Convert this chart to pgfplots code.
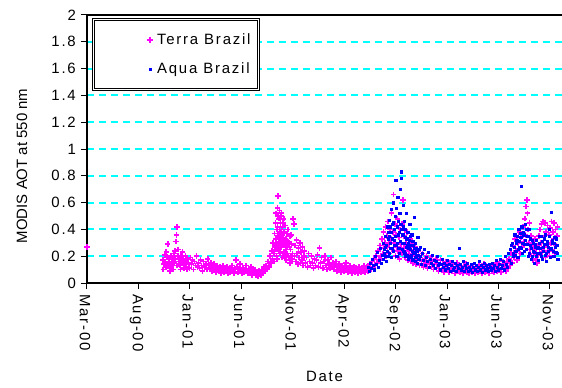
\documentclass[border=0pt]{standalone}
\usepackage{fontspec}
\setmainfont{Liberation Sans}
\newfontfamily\spaced{Liberation Sans}[LetterSpace=12]
\usepackage{pgfplots}
\pgfplotsset{compat=1.18}
\definecolor{terra}{RGB}{255,0,255}
\definecolor{aquablue}{RGB}{0,0,255}
\definecolor{gridcyan}{RGB}{0,255,255}
% legend image: a single mark with empty room to its left
\pgfplotsset{wide legend mark/.style={legend image code/.code={\path (-50bp,0) (4bp,0); \draw[##1] plot coordinates {(0bp,0bp)};}}}

\begin{document}
\fontsize{15}{17}\selectfont
\begin{tikzpicture}
\useasboundingbox (-87bp,-105bp) rectangle (475bp,283bp);
\begin{axis}[
  at={(0,0)}, anchor=south west,
  width=475bp, height=268bp, scale only axis,
  xmin=0, xmax=1413, ymin=0, ymax=2,
  axis x line*=bottom, axis y line*=left,
  axis line style={-, line width=1.2bp, black},
  tick align=outside, major tick length=6bp,
  tick style={line width=1bp, black},
  xtick={0,153,306,459,612,765,918,1071,1224,1377},
  xticklabels={Mar-00,Aug-00,Jan-01,Jun-01,Nov-01,Apr-02,Sep-02,Jan-03,Jun-03,Nov-03},
  ytick={0,0.2,0.4,0.6,0.8,1,1.2,1.4,1.6,1.8,2},
  yticklabels={0,0.2,0.4,0.6,0.8,1,1.2,1.4,1.6,1.8,2},
  minor ytick={0.2,0.4,0.6,0.8,1,1.2,1.4,1.6,1.8},
  minor tick length=0pt,
  yminorgrids,
  minor grid style={gridcyan, line width=2bp, dash pattern=on 7bp off 5bp},
  xticklabel style={font=\spaced, rotate=-90, anchor=west, yshift=-2bp},
  yticklabel style={font=\spaced},
  /pgf/number format/assume math mode=true,
  xlabel={\spaced Date},
  every axis x label/.style={at={(axis description cs:0.5,-0.347)}, anchor=center},
  ylabel={MODIS AOT at 550 nm},
  every axis y label/.style={at={(axis description cs:-0.137,0.437)}, rotate=90, anchor=center},
  clip=false,
  legend style={at={(axis description cs:0.0126,0.985)}, anchor=north west,
    draw=black, line width=0.8bp, double=white, double distance=0.8bp, fill=white,
    font=\spaced, inner xsep=6bp, inner ysep=12bp, row sep=12bp,
    cells={anchor=west}},
]
% Terra (MODIS on Terra), daily Brazil AOT
\addplot[only marks, mark=+, mark size=2.8bp, color=terra, line width=1.7bp, wide legend mark]
coordinates {
(0,0.27)
(226,0.17) (229,0.14) (232,0.21) (235,0.12) (238,0.19) (240,0.29) (243,0.15) (246,0.11) (249,0.2) (252,0.16) (255,0.13) (258,0.22) (261,0.18) (264,0.31) (266,0.36) (268,0.42) (270,0.25) (272,0.14) (275,0.19) (278,0.1) (281,0.17) (284,0.23) (287,0.13) (290,0.16) (293,0.2) (296,0.12) (299,0.18) (302,0.15) (305,0.11) (308,0.19) (311,0.14) (314,0.17) (317,0.1) (320,0.16) (323,0.13) (326,0.2) (329,0.12)
(227,0.1) (233,0.16) (236,0.23) (239,0.13) (244,0.18) (247,0.09) (250,0.14) (253,0.19) (256,0.1) (259,0.15) (262,0.24) (267,0.13) (271,0.2) (274,0.16) (277,0.13) (280,0.2) (283,0.15) (286,0.18) (289,0.11) (292,0.14) (295,0.17) (298,0.1)
(332,0.15) (335,0.11) (338,0.17) (341,0.13) (344,0.09) (347,0.16) (350,0.12) (353,0.14) (356,0.1) (359,0.18) (362,0.13) (365,0.11) (368,0.15) (371,0.09) (374,0.12) (377,0.14) (380,0.1) (383,0.08) (386,0.13) (389,0.11) (392,0.09) (395,0.12) (398,0.07) (401,0.1) (404,0.13) (407,0.08) (410,0.11) (413,0.09) (416,0.12) (419,0.07) (422,0.1) (425,0.08) (428,0.11) (431,0.13) (434,0.09) (437,0.07) (440,0.1) (443,0.17) (446,0.12) (449,0.08) (452,0.1) (455,0.14) (458,0.09) (461,0.07) (464,0.11) (467,0.08) (470,0.1) (473,0.13) (476,0.09) (479,0.07) (482,0.1) (485,0.08) (488,0.12) (491,0.06) (494,0.09) (497,0.07) (500,0.1)
(503,0.06) (506,0.08) (509,0.05) (512,0.09) (515,0.07) (518,0.06) (521,0.1) (524,0.08) (527,0.12) (530,0.09)
(533,0.13) (536,0.1) (539,0.16) (542,0.12) (545,0.2) (548,0.15) (550,0.24) (552,0.18) (554,0.3) (556,0.22) (558,0.37) (560,0.27) (561,0.45) (562,0.33) (563,0.52) (564,0.2) (565,0.4) (566,0.29) (567,0.56) (568,0.65) (569,0.35) (570,0.24) (571,0.48) (572,0.3) (573,0.54) (574,0.38) (575,0.22) (576,0.45) (577,0.31) (578,0.27) (579,0.52) (580,0.36) (581,0.19) (582,0.42) (583,0.28) (584,0.34) (585,0.48) (586,0.23) (587,0.38) (588,0.3) (589,0.21)
(557,0.16) (559,0.25) (563,0.3) (565,0.18) (567,0.42) (569,0.5) (571,0.26) (573,0.4) (575,0.33) (577,0.5) (579,0.4) (581,0.3) (583,0.45) (585,0.2) (587,0.3) (589,0.43) (592,0.25) (594,0.37) (596,0.22) (598,0.31) (600,0.19) (602,0.27) (604,0.35) (606,0.2) (608,0.29) (610,0.16)
(591,0.33) (593,0.17) (595,0.27) (597,0.4) (599,0.2) (601,0.3) (603,0.15) (605,0.25) (607,0.36) (609,0.18) (611,0.22) (613,0.48) (615,0.44) (617,0.2) (619,0.28) (621,0.16) (623,0.32) (625,0.22) (627,0.14) (629,0.26) (631,0.19) (633,0.3) (635,0.15) (637,0.23) (639,0.17) (641,0.27) (643,0.13) (645,0.2) (647,0.24) (650,0.15) (653,0.19) (656,0.12) (659,0.22) (662,0.16) (665,0.13) (668,0.2) (671,0.15) (674,0.11) (677,0.18) (680,0.13)
(683,0.17) (686,0.21) (689,0.12) (692,0.26) (695,0.15) (698,0.19) (701,0.11) (704,0.16) (707,0.2) (710,0.13) (713,0.1) (716,0.17) (719,0.14) (722,0.11) (725,0.19) (728,0.12) (731,0.15) (734,0.1) (737,0.13) (740,0.16) (743,0.09) (746,0.12) (749,0.14) (752,0.1) (755,0.08) (758,0.13) (761,0.11) (764,0.09) (767,0.12) (770,0.15) (773,0.1) (776,0.08) (779,0.11) (782,0.13) (785,0.09) (788,0.07) (791,0.1) (794,0.12) (797,0.08) (800,0.11) (803,0.09) (806,0.07) (809,0.12) (812,0.1) (815,0.08) (818,0.11) (821,0.09) (824,0.13) (827,0.08) (830,0.1) (833,0.12) (836,0.09) (839,0.11)
(842,0.14) (845,0.1) (848,0.16) (851,0.12) (854,0.18) (857,0.13) (860,0.2) (863,0.15) (866,0.24) (869,0.17) (872,0.28) (875,0.2) (878,0.33) (880,0.22) (882,0.38) (884,0.26) (886,0.3) (888,0.42) (890,0.2) (892,0.35) (894,0.27) (896,0.46) (898,0.3) (900,0.22) (902,0.4) (904,0.33) (906,0.52) (908,0.25) (910,0.38) (912,0.66) (914,0.3) (916,0.44) (918,0.2) (920,0.36) (922,0.27) (924,0.48) (926,0.24) (928,0.34) (930,0.18) (932,0.4) (934,0.29) (936,0.22) (938,0.44) (940,0.62) (942,0.26) (944,0.35) (946,0.19) (948,0.3) (950,0.24) (952,0.38) (954,0.17) (956,0.28) (958,0.22) (960,0.33) (962,0.16) (964,0.25) (966,0.2) (968,0.3) (970,0.15) (972,0.23) (974,0.18) (976,0.27) (978,0.14) (980,0.21) (983,0.17) (986,0.24) (989,0.13) (992,0.19) (995,0.16) (998,0.22) (1001,0.12) (1004,0.18) (1007,0.15) (1010,0.2) (1013,0.11) (1016,0.16) (1019,0.14) (1022,0.19)
(1025,0.12) (1028,0.16) (1031,0.1) (1034,0.14) (1037,0.18) (1040,0.11) (1043,0.15) (1046,0.09) (1049,0.13) (1052,0.17) (1055,0.1) (1058,0.14) (1061,0.08) (1064,0.12) (1067,0.16) (1070,0.1) (1073,0.13) (1076,0.08) (1079,0.15) (1082,0.11) (1085,0.09) (1088,0.14) (1091,0.1) (1094,0.07) (1097,0.12) (1100,0.15) (1103,0.09) (1106,0.11) (1109,0.08) (1112,0.13) (1115,0.1) (1118,0.07) (1121,0.12) (1124,0.09) (1127,0.14) (1130,0.08) (1133,0.11) (1136,0.07) (1139,0.1) (1142,0.13) (1145,0.08) (1148,0.11) (1151,0.09) (1154,0.07) (1157,0.12) (1160,0.1) (1163,0.08) (1166,0.13) (1169,0.09) (1172,0.11) (1175,0.07) (1178,0.1) (1181,0.14) (1184,0.08) (1187,0.11) (1190,0.09) (1193,0.12) (1196,0.07) (1199,0.1) (1202,0.13) (1205,0.09) (1208,0.11) (1211,0.08) (1214,0.12) (1217,0.15) (1220,0.09) (1223,0.11) (1226,0.14) (1229,0.1) (1232,0.08) (1235,0.13) (1238,0.16) (1241,0.1) (1244,0.12) (1247,0.09) (1250,0.15) (1253,0.11) (1256,0.18) (1259,0.13)
(1262,0.22) (1265,0.15) (1268,0.28) (1271,0.19) (1274,0.33) (1277,0.24) (1280,0.17) (1283,0.3) (1286,0.38) (1289,0.22) (1292,0.34) (1295,0.27) (1298,0.42) (1300,0.31) (1302,0.48) (1304,0.36) (1306,0.57) (1308,0.62) (1310,0.52) (1312,0.4) (1314,0.3) (1316,0.45) (1318,0.25) (1320,0.35) (1322,0.2) (1324,0.3) (1326,0.17) (1328,0.27) (1330,0.22) (1332,0.33) (1334,0.18) (1336,0.25) (1338,0.15) (1340,0.28) (1342,0.21) (1344,0.35) (1346,0.26) (1348,0.4) (1350,0.3) (1352,0.44) (1354,0.23) (1356,0.46) (1358,0.34) (1360,0.27) (1362,0.45) (1364,0.19) (1366,0.38) (1368,0.29) (1370,0.43) (1372,0.24) (1374,0.36) (1376,0.2) (1378,0.41) (1380,0.3) (1382,0.46) (1384,0.25) (1386,0.38) (1388,0.33) (1390,0.45) (1392,0.22) (1394,0.4) (1396,0.28) (1398,0.35) (1400,0.42)
};
\addlegendentry{Terra Brazil\hspace{12bp}}
% Aqua (MODIS on Aqua), from mid 2002
\addplot[only marks, mark=square*, mark size=1.1bp, color=aquablue, wide legend mark]
coordinates {
(836,0.12) (839,0.09) (842,0.15) (845,0.11) (848,0.18) (851,0.13) (854,0.1) (857,0.2) (860,0.14) (863,0.23) (866,0.12) (869,0.17) (872,0.26) (875,0.15) (878,0.21) (880,0.3) (882,0.18) (884,0.25) (886,0.35) (888,0.2) (890,0.28) (892,0.42) (894,0.24) (896,0.33) (898,0.47) (900,0.22) (902,0.3) (904,0.55) (906,0.38) (908,0.26) (910,0.45) (912,0.6) (914,0.32) (916,0.5) (918,0.77) (920,0.28) (922,0.42) (924,0.64) (926,0.36) (928,0.22) (930,0.52) (932,0.7) (934,0.83) (935,0.78) (936,0.4) (938,0.3) (940,0.58) (942,0.24) (944,0.46) (946,0.34) (948,0.2) (950,0.52) (952,0.28) (954,0.38) (956,0.18) (958,0.32) (960,0.44) (962,0.25) (964,0.21) (966,0.36) (968,0.17) (970,0.28) (972,0.23) (974,0.49) (976,0.3) (978,0.19) (980,0.26) (982,0.15) (984,0.34) (986,0.21) (988,0.18) (990,0.27) (993,0.14) (996,0.22) (999,0.17) (1002,0.25) (1005,0.13) (1008,0.19) (1011,0.16) (1014,0.23) (1017,0.12) (1020,0.18) (1023,0.15) (1026,0.21) (1029,0.13) (1032,0.17) (1035,0.11) (1038,0.16) (1041,0.2) (1044,0.13) (1047,0.15) (1050,0.1) (1053,0.14) (1056,0.18) (1059,0.12) (1062,0.15) (1065,0.1) (1068,0.13) (1071,0.17) (1074,0.11) (1077,0.14) (1080,0.09) (1083,0.13) (1086,0.16) (1089,0.1) (1092,0.12) (1095,0.15) (1098,0.09) (1101,0.13) (1104,0.11) (1107,0.26) (1110,0.14) (1113,0.1) (1116,0.12) (1119,0.16) (1122,0.09) (1125,0.13) (1128,0.11) (1131,0.15) (1134,0.09) (1137,0.12) (1140,0.1) (1143,0.14) (1146,0.08) (1149,0.12) (1152,0.15) (1155,0.1) (1158,0.13) (1161,0.09) (1164,0.12) (1167,0.16) (1170,0.1) (1173,0.13) (1176,0.08) (1179,0.12) (1182,0.15) (1185,0.1) (1188,0.13) (1191,0.11) (1194,0.09) (1197,0.14) (1200,0.12) (1203,0.1) (1206,0.15) (1209,0.11) (1212,0.13) (1215,0.09) (1218,0.17) (1221,0.12) (1224,0.1) (1227,0.14) (1230,0.18) (1233,0.11) (1236,0.13) (1239,0.16) (1242,0.1) (1245,0.2) (1248,0.14) (1251,0.12) (1254,0.22) (1257,0.17) (1260,0.25) (1263,0.15) (1266,0.3) (1269,0.2) (1272,0.36) (1275,0.24) (1278,0.32) (1281,0.19) (1284,0.4) (1287,0.27) (1290,0.34) (1292,0.72) (1294,0.22) (1297,0.38) (1300,0.29) (1303,0.44) (1306,0.25) (1309,0.35) (1312,0.2) (1315,0.4) (1318,0.28) (1321,0.18) (1324,0.32) (1327,0.24) (1330,0.15) (1333,0.29) (1336,0.2) (1339,0.26) (1342,0.17) (1345,0.3) (1348,0.22) (1351,0.35) (1354,0.18) (1357,0.27) (1360,0.33) (1363,0.21) (1366,0.16) (1369,0.29) (1372,0.24) (1375,0.35) (1378,0.19) (1380,0.53) (1382,0.26) (1385,0.3) (1388,0.2) (1391,0.34) (1394,0.23) (1397,0.28) (1400,0.18)
(883,0.22) (887,0.27) (891,0.16) (895,0.38) (897,0.2) (899,0.35) (901,0.42) (903,0.26) (905,0.19) (907,0.44) (909,0.33) (911,0.24) (913,0.4) (915,0.28) (917,0.35) (919,0.56) (921,0.2) (923,0.3) (925,0.46) (927,0.26) (929,0.38) (931,0.31) (933,0.44) (937,0.25) (939,0.36) (941,0.42) (943,0.3) (945,0.22) (947,0.4) (949,0.27) (951,0.33) (953,0.21) (955,0.3) (957,0.26) (959,0.2) (961,0.35) (963,0.28) (965,0.19) (967,0.24) (969,0.31) (971,0.18) (973,0.26) (975,0.22) (977,0.16) (979,0.21) (981,0.24) (985,0.18) (987,0.25) (991,0.2)
(1262,0.28) (1267,0.22) (1270,0.27) (1273,0.21) (1276,0.3) (1279,0.35) (1282,0.25) (1285,0.31) (1288,0.37) (1291,0.26) (1293,0.42) (1296,0.3) (1299,0.36) (1301,0.24) (1304,0.32) (1307,0.4) (1310,0.29) (1313,0.35) (1316,0.22) (1319,0.33) (1322,0.26) (1325,0.2) (1328,0.3) (1331,0.23) (1334,0.27) (1337,0.32) (1340,0.22) (1343,0.27) (1346,0.35) (1349,0.26) (1352,0.2) (1355,0.31) (1358,0.24) (1361,0.29) (1364,0.36) (1367,0.22) (1370,0.31) (1373,0.27) (1376,0.4) (1379,0.25) (1383,0.32) (1386,0.24) (1389,0.3) (1392,0.27) (1395,0.33) (1398,0.22)
};
\addlegendentry{Aqua Brazil\hspace{12bp}}
% upper border of the plot area
\draw[line width=1.5bp, black] (rel axis cs:0,1) -- (rel axis cs:1,1);
\end{axis}
\end{tikzpicture}
\end{document}
